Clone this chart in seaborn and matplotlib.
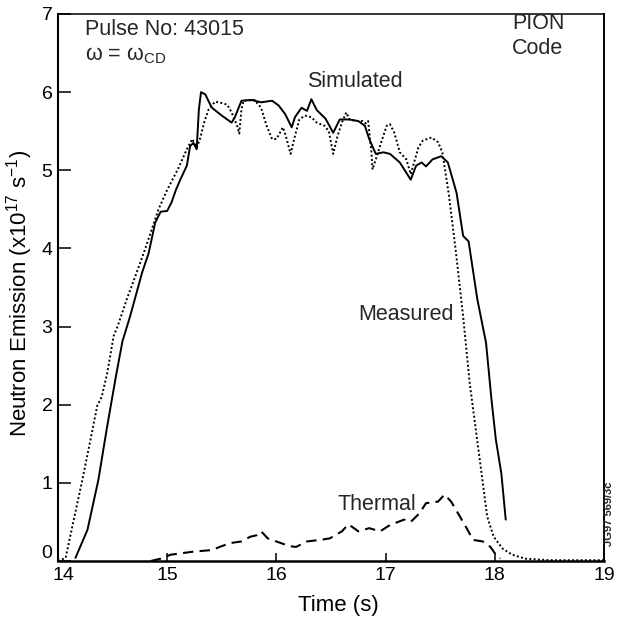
import matplotlib
matplotlib.use("Agg")
import matplotlib.pyplot as plt
import matplotlib.transforms as mtransforms
import seaborn as sns
import pandas as pd

# ---------------- data ----------------
measured_t = [14.00, 14.07, 14.14, 14.22, 14.29, 14.36, 14.40, 14.45, 14.51, 14.55,
              14.63, 14.72, 14.80, 14.86, 14.92, 15.00, 15.10, 15.18, 15.23, 15.27,
              15.30, 15.34, 15.38, 15.44, 15.50, 15.55, 15.59, 15.64, 15.66, 15.68,
              15.70, 15.80, 15.86, 15.91, 15.96, 16.00, 16.06, 16.09, 16.13, 16.17,
              16.21, 16.26, 16.32, 16.37, 16.44, 16.48, 16.52, 16.56, 16.60, 16.64,
              16.67, 16.73, 16.79, 16.82, 16.84, 16.87, 16.88, 16.92, 16.96, 17.01,
              17.04, 17.08, 17.13, 17.19, 17.23, 17.30, 17.34, 17.42, 17.48, 17.52,
              17.58, 17.64, 17.71, 17.77, 17.83, 17.89, 17.93, 17.99, 18.07, 18.16,
              18.28, 18.50, 19.00]
measured_v = [0.00, 0.04, 0.50, 1.02, 1.50, 1.99, 2.10, 2.40, 2.88, 3.02,
              3.35, 3.69, 4.00, 4.25, 4.50, 4.75, 5.02, 5.27, 5.40, 5.29,
              5.40, 5.62, 5.78, 5.88, 5.86, 5.84, 5.74, 5.57, 5.47, 5.78,
              5.89, 5.90, 5.80, 5.57, 5.40, 5.40, 5.55, 5.42, 5.21, 5.44,
              5.65, 5.70, 5.68, 5.61, 5.57, 5.50, 5.21, 5.44, 5.61, 5.74,
              5.65, 5.63, 5.63, 5.60, 5.63, 5.23, 5.01, 5.18, 5.36, 5.57,
              5.59, 5.48, 5.23, 5.14, 4.95, 5.29, 5.38, 5.42, 5.36, 5.23,
              4.68, 4.00, 3.13, 2.28, 1.64, 1.00, 0.57, 0.31, 0.16, 0.08,
              0.03, 0.01, 0.01]

simulated_t = [14.16, 14.27, 14.37, 14.45, 14.53, 14.59, 14.66, 14.77, 14.83, 14.89,
               14.94, 15.00, 15.04, 15.08, 15.12, 15.18, 15.21, 15.24, 15.27, 15.29,
               15.31, 15.35, 15.38, 15.41, 15.50, 15.59, 15.62, 15.68, 15.77, 15.86,
               15.96, 16.02, 16.08, 16.14, 16.17, 16.23, 16.28, 16.32, 16.37, 16.45,
               16.52, 16.58, 16.67, 16.75, 16.81, 16.85, 16.91, 16.98, 17.04, 17.13,
               17.23, 17.28, 17.33, 17.37, 17.43, 17.51, 17.57, 17.65, 17.71, 17.76,
               17.84, 17.92, 17.97, 18.01, 18.06, 18.10]
simulated_v = [0.04, 0.40, 1.04, 1.72, 2.36, 2.81, 3.13, 3.69, 3.94, 4.33,
               4.47, 4.48, 4.59, 4.75, 4.88, 5.06, 5.31, 5.35, 5.27, 5.78,
               6.00, 5.97, 5.88, 5.80, 5.70, 5.61, 5.68, 5.89, 5.90, 5.87,
               5.89, 5.83, 5.72, 5.55, 5.68, 5.80, 5.76, 5.91, 5.77, 5.66,
               5.48, 5.65, 5.65, 5.63, 5.57, 5.40, 5.21, 5.23, 5.21, 5.10,
               4.88, 5.06, 5.10, 5.05, 5.14, 5.18, 5.10, 4.71, 4.16, 4.09,
               3.35, 2.79, 2.06, 1.55, 1.12, 0.53]

thermal_t = [14.85, 14.94, 15.03, 15.24, 15.41, 15.48, 15.58, 15.68, 15.76, 15.82,
             15.86, 15.92, 16.00, 16.12, 16.18, 16.28, 16.40, 16.49, 16.60, 16.66,
             16.75, 16.85, 16.95, 17.04, 17.17, 17.23, 17.31, 17.37, 17.48, 17.54,
             17.60, 17.68, 17.75, 17.80, 17.89, 17.96, 18.01, 18.05]
thermal_v = [0.00, 0.03, 0.08, 0.12, 0.14, 0.18, 0.23, 0.25, 0.31, 0.33,
             0.38, 0.29, 0.25, 0.19, 0.18, 0.25, 0.27, 0.29, 0.38, 0.47,
             0.38, 0.42, 0.38, 0.46, 0.53, 0.50, 0.61, 0.74, 0.76, 0.85,
             0.76, 0.57, 0.40, 0.27, 0.25, 0.18, 0.08, 0.03]

x_ticks = [14, 15, 16, 17, 18, 19]
y_ticks = [0, 1, 2, 3, 4, 5, 6, 7]

# ---------------- style ----------------
sns.set_theme(style="ticks")
plt.rcParams["font.family"] = ["Liberation Sans", "DejaVu Sans"]
plt.rcParams["mathtext.fontset"] = "custom"
plt.rcParams["mathtext.rm"] = "Liberation Sans"
plt.rcParams["mathtext.it"] = "Liberation Sans:italic"
plt.rcParams["mathtext.bf"] = "Liberation Sans:bold"

fig = plt.figure(figsize=(6.17, 6.21), dpi=100)
ax = fig.add_axes([58 / 617, 1 - 561 / 621, 546 / 617, (561 - 14) / 621])

df_m = pd.DataFrame({"t": measured_t, "v": measured_v})
df_s = pd.DataFrame({"t": simulated_t, "v": simulated_v})
df_th = pd.DataFrame({"t": thermal_t, "v": thermal_v})

sns.lineplot(data=df_m, x="t", y="v", ax=ax, color="black", lw=1.4,
             linestyle=(0, (1, 1.2)), estimator=None)
sns.lineplot(data=df_s, x="t", y="v", ax=ax, color="black", lw=1.4,
             linestyle="-", estimator=None)
sns.lineplot(data=df_th, x="t", y="v", ax=ax, color="black", lw=1.5,
             linestyle=(0, (5, 3)), estimator=None)

ax.set_xlim(14, 19)
ax.set_ylim(0, 7)
ax.set_xticks(x_ticks)
ax.set_yticks(y_ticks)
ax.set_xticklabels([str(v) for v in x_ticks])
ax.set_yticklabels([str(v) for v in y_ticks])

ax.tick_params(axis="x", direction="in", length=6, width=1.1, labelsize=14, pad=4, colors="black")
ax.tick_params(axis="y", direction="in", length=9.5, width=1.1, labelsize=14, pad=4, colors="black")

# nudge the corner labels apart as in the reference
fig.canvas.draw()
ylabs = ax.get_yticklabels()
ylabs[0].set_transform(ylabs[0].get_transform()
                       + mtransforms.ScaledTranslation(0, 10 / 100, fig.dpi_scale_trans))
xlabs = ax.get_xticklabels()
xlabs[0].set_transform(xlabs[0].get_transform()
                       + mtransforms.ScaledTranslation(5 / 100, 0, fig.dpi_scale_trans))

for side in ["left", "right", "top", "bottom"]:
    ax.spines[side].set_visible(True)
    ax.spines[side].set_color("black")
ax.spines["bottom"].set_linewidth(1.8)
ax.spines["left"].set_linewidth(1.5)
ax.spines["right"].set_linewidth(1.4)
ax.spines["top"].set_linewidth(1.1)

ax.set_xlabel("Time (s)", fontsize=16, color="black")
ax.set_ylabel("Neutron Emission (x10$^{17}$ s$^{-1}$)", fontsize=16, color="black")
ax.xaxis.set_label_coords(0.513, -0.062)
ax.yaxis.label.set_va("center")
ax.yaxis.set_label_coords(-0.071, 0.49)

# annotations
ax.text(14.25, 6.94, "Pulse No: 43015", fontsize=15.5, va="top", ha="left")
ax.text(14.25, 6.40, "ω = ω$_{\\mathrm{CD}}$", fontsize=15.5, va="baseline", ha="left")
ax.text(18.16, 6.81, "PION", fontsize=15.5, va="baseline", ha="left")
ax.text(18.16, 6.49, "Code", fontsize=15.5, va="baseline", ha="left")
ax.text(16.72, 6.06, "Simulated", fontsize=15.5, va="baseline", ha="center")
ax.text(17.19, 3.09, "Measured", fontsize=15.5, va="baseline", ha="center")
ax.text(16.92, 0.65, "Thermal", fontsize=15.5, va="baseline", ha="center")

fig.text(609 / 617, 1 - 514 / 621, "JG97 569/3c", rotation=90, fontsize=8,
         fontweight="bold", ha="center", va="center")

fig.savefig("out.png", dpi=100)
